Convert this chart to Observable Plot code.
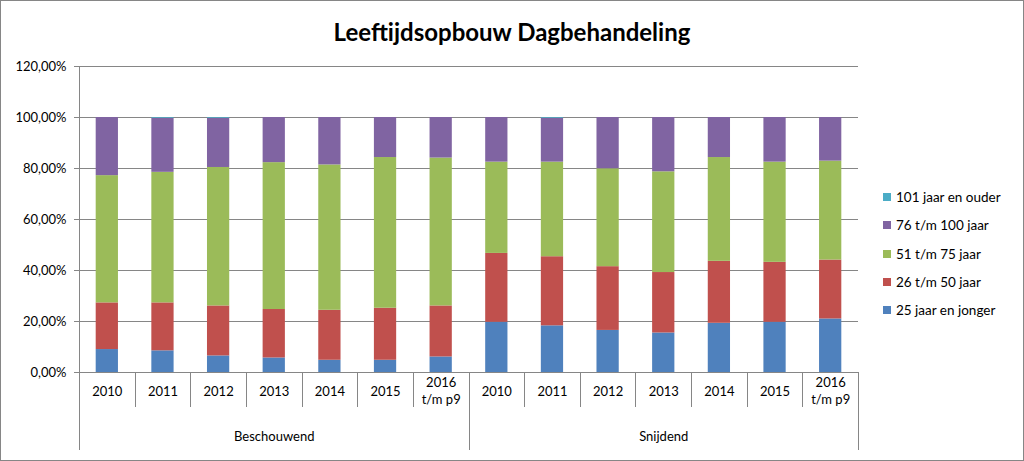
<!DOCTYPE html>
<html>
<head>
<meta charset="utf-8">
<script src="https://cdn.jsdelivr.net/npm/d3@7"></script>
<script src="https://cdn.jsdelivr.net/npm/@observablehq/plot@0.6"></script>
<style>
  body { margin: 0; background: #fff; }
  #chart { position: relative; width: 1024px; height: 461px; overflow: hidden; font-family: Lato, "Open Sans", sans-serif; background: #fff; }
  #border { position: absolute; left: 0; top: 0; width: 1024px; height: 461px; box-sizing: border-box; border: 1px solid #868686; pointer-events: none; z-index: 3; }
  #plot { position: absolute; left: 0; top: 0; }
  #title { position: absolute; left: 0; top: 14px; width: 1024px; text-align: center; font-weight: bold; font-size: 24px; line-height: 36px; color: #000; z-index: 2; }
  #legend { position: absolute; left: 883px; top: 183px; z-index: 2; }
  .item { display: flex; align-items: center; height: 28.3px; font-size: 13.5px; color: #000; white-space: nowrap; }
  .sw { width: 8px; height: 8px; margin-right: 5px; flex: none; }
</style>
</head>
<body>
<div id="chart">
  <div id="plot"></div>
  <div id="title">Leeftijdsopbouw Dagbehandeling</div>
  <div id="legend"></div>
  <div id="border"></div>
</div>
<script>
const groups = ["Beschouwend", "Snijdend"];
const years = ["2010", "2011", "2012", "2013", "2014", "2015", "2016\nt/m p9"];
const series = ["25 jaar en jonger", "26 t/m 50 jaar", "51 t/m 75 jaar", "76 t/m 100 jaar", "101 jaar en ouder"];
const colors = ["#4F81BD", "#C0504D", "#9BBB59", "#8064A2", "#4BACC6"];

// percentages, Beschouwend 2010..2016 then Snijdend 2010..2016
const s25  = [9.0, 8.5, 6.5, 5.7, 4.8, 4.8, 6.1, 19.7, 18.3, 16.5, 15.5, 19.3, 19.7, 21.0];
const s26  = [18.3, 18.8, 19.6, 19.0, 19.6, 20.4, 20.0, 27.0, 27.1, 25.0, 23.7, 24.3, 23.5, 23.1];
const s51  = [49.9, 51.2, 54.3, 57.6, 57.0, 59.1, 58.0, 35.8, 37.1, 38.4, 39.5, 40.7, 39.3, 38.8];
const s76  = [22.8, 21.2, 19.3, 17.7, 18.6, 15.7, 15.9, 17.5, 17.2, 20.1, 21.3, 15.7, 17.5, 17.1];
const s101 = [0, 0.3, 0.3, 0, 0, 0, 0, 0, 0.3, 0, 0, 0, 0, 0];

const yTicks = [0, 0.2, 0.4, 0.6, 0.8, 1.0, 1.2];

const seriesValues = [s25, s26, s51, s76, s101];
const cats = groups.flatMap(g => years.map(y => ({key: g + "|" + y, group: g, year: y})));
const rows = [];
seriesValues.forEach((vals, si) => cats.forEach((c, ci) => rows.push({key: c.key, series: series[si], value: vals[ci] / 100})));
const groupLabels = groups.map(g => ({key: g + "|" + years[3], group: g}));

const nl = d3.formatLocale({decimal: ",", thousands: ".", grouping: [3], currency: ["€", ""]});
const pct = nl.format(".2%");

function separators(index, scales, values, dims) {
  const x = scales.x;
  const dom = x.domain();
  const bw = x.bandwidth ? x.bandwidth() : 0;
  const step = x.step ? x.step() : (x(dom[1]) - x(dom[0]));
  const base = dims.height - dims.marginBottom;
  const g = d3.create("svg:g").attr("stroke", "#868686").attr("stroke-width", 1);
  for (let i = 0; i <= dom.length; i++) {
    const cx = i < dom.length ? x(dom[i]) + bw / 2 - step / 2 : x(dom[dom.length - 1]) + bw / 2 + step / 2;
    const xx = Math.round(cx) + 0.5;
    const long = i % years.length === 0;
    g.append("line")
      .attr("x1", xx).attr("x2", xx)
      .attr("y1", i === 0 ? dims.marginTop : base)
      .attr("y2", base + (long ? 78 : 35));
  }
  return g.node();
}

const chart = Plot.plot({
  width: 1024,
  height: 461,
  marginLeft: 79,
  marginRight: 166,
  marginTop: 66,
  marginBottom: 89,
  style: {fontFamily: "Lato, 'Open Sans', sans-serif", fontSize: "13px", color: "#000", background: "transparent"},
  x: {domain: cats.map(c => c.key), paddingInner: 0.6, paddingOuter: 0.3, round: false, axis: null},
  y: {domain: [0, 1.2], label: null},
  color: {domain: series, range: colors},
  marks: [
    Plot.gridY({ticks: yTicks, stroke: "#868686", strokeOpacity: 1}),
    Plot.barY(rows, {x: "key", y: "value", fill: "series"}),
    Plot.axisY({ticks: yTicks, tickFormat: pct, tickSize: 5, tickPadding: 8, stroke: "#868686", fill: "#000", fontSize: 13, label: null}),
    Plot.text(cats, {x: "key", text: "year", frameAnchor: "bottom", dy: 18, lineAnchor: "middle", lineHeight: 1.3, fontSize: 13, fill: "#000"}),
    Plot.text(groupLabels, {x: "key", text: "group", frameAnchor: "bottom", dy: 68, fontSize: 13, fill: "#000"}),
    separators
  ]
});
document.getElementById("plot").appendChild(chart);

const legend = d3.select("#legend");
series.slice().reverse().forEach(s => {
  const item = legend.append("div").attr("class", "item");
  item.append("div").attr("class", "sw").style("background", colors[series.indexOf(s)]);
  item.append("span").text(s);
});
</script>
</body>
</html>
